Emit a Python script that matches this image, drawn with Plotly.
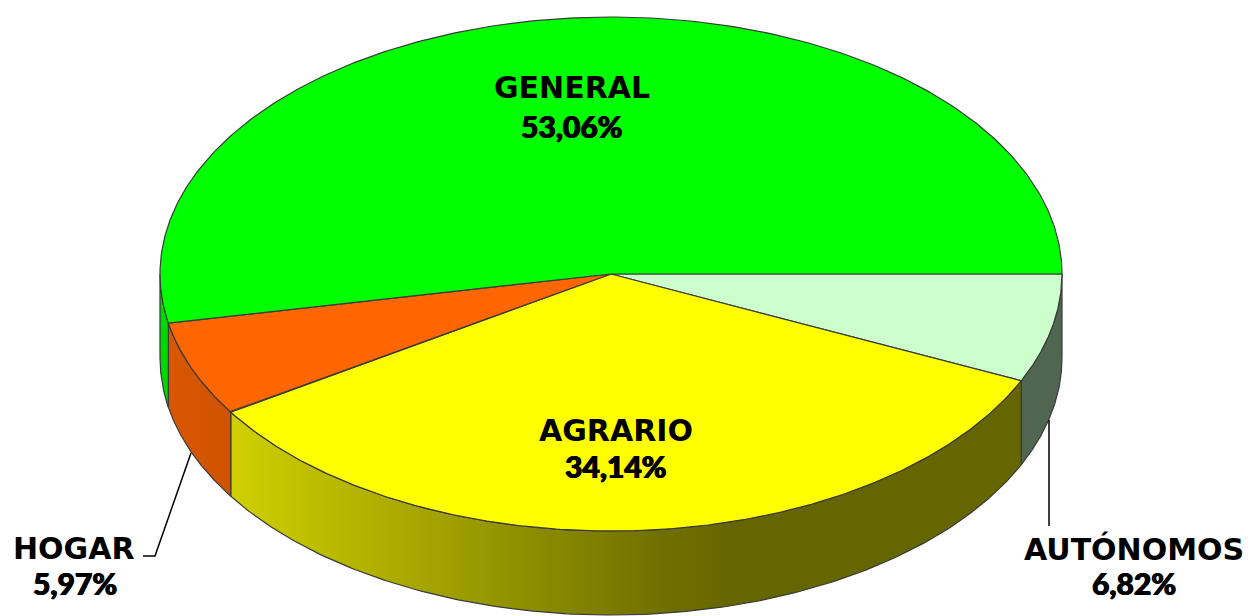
import numpy as np
import plotly.graph_objects as go

# ---- data (clockwise from 3 o'clock) ----
categories = ["AUTÓNOMOS", "AGRARIO", "HOGAR", "GENERAL"]
values = [6.82, 34.14, 5.97, 53.06]
pct_labels = ["6,82%", "34,14%", "5,97%", "53,06%"]
top_colors = ["#CCFFCC", "#FFFF00", "#FF6600", "#00FF00"]

# ---- geometry / style ----
W, H = 1253, 616
cx, cy, rx, ry, depth = 611, 274, 451, 257, 84
edge = "#3a3a3a"

# horizontal lighting factor for the side walls
shade_x = [150, 230, 710, 1100]
shade_f = [0.86, 0.82, 0.40, 0.40]


def hex2rgb(h):
    h = h.lstrip("#")
    return tuple(int(h[i:i + 2], 16) for i in (0, 2, 4))


def shade(hexc, f):
    r, g, b = hex2rgb(hexc)
    return f"rgb({int(r*f)},{int(g*f)},{int(b*f)})"


fig = go.Figure()

total = sum(values)
bounds = np.concatenate([[0], np.cumsum(values) / total * 360.0])

# side walls (only front half, 0..180 deg, screen clockwise)
for i, c in enumerate(top_colors):
    a1, a2 = bounds[i], bounds[i + 1]
    s1, s2 = max(a1, 0), min(a2, 180)
    if s2 <= s1:
        continue
    t = np.radians(np.linspace(s1, s2, 200))
    xt = cx + rx * np.cos(t)
    yt = cy + ry * np.sin(t)
    xs = np.concatenate([xt, xt[::-1], xt[:1]])
    ys = np.concatenate([yt, yt[::-1] + depth, yt[:1]])
    x0, x1 = xt.min(), xt.max()
    samp = np.linspace(x0, x1, 12)
    cs = [[k / 11, shade(c, float(np.interp(sx, shade_x, shade_f)))] for k, sx in enumerate(samp)]
    fig.add_trace(go.Scatter(
        x=xs, y=ys, mode="lines", fill="toself",
        fillgradient=dict(type="horizontal", colorscale=cs, start=x0, stop=x1),
        line=dict(color=edge, width=1.2), hoverinfo="skip", showlegend=False))

# top faces
for i, c in enumerate(top_colors):
    a1, a2 = bounds[i], bounds[i + 1]
    t = np.radians(np.linspace(a1, a2, 300))
    xs = np.concatenate([[cx], cx + rx * np.cos(t), [cx]])
    ys = np.concatenate([[cy], cy + ry * np.sin(t), [cy]])
    fig.add_trace(go.Scatter(
        x=xs, y=ys, mode="lines", fill="toself", fillcolor=c,
        line=dict(color=edge, width=1.2), hoverinfo="skip", showlegend=False))

# ---- labels ----
name_pos = {
    "GENERAL": (572, 87),
    "AGRARIO": (616, 430),
    "HOGAR": (74, 548),
    "AUTÓNOMOS": (1134, 549),
}
num_pos = {
    "GENERAL": (572, 126),
    "AGRARIO": (616, 466),
    "HOGAR": (75, 583),
    "AUTÓNOMOS": (1134, 583),
}
name_font = dict(family="'DejaVu Sans', sans-serif", size=30, color="#000000", weight="bold")
num_font = dict(family="Lato, sans-serif", size=30, color="#000000", weight=900,
                shadow="0.6px 0 0 #000, -0.6px 0 0 #000")
for cat, p in zip(categories, pct_labels):
    x, y = name_pos[cat]
    fig.add_annotation(x=x, y=y, xref="x", yref="y", text=cat,
                       showarrow=False, font=name_font, yanchor="middle")
    x, y = num_pos[cat]
    fig.add_annotation(x=x, y=y, xref="x", yref="y", text=p,
                       showarrow=False, font=num_font, yanchor="middle")

# leader lines
fig.add_trace(go.Scatter(x=[191, 155, 143], y=[453, 556, 556], mode="lines",
                         line=dict(color="#000000", width=1.5), hoverinfo="skip", showlegend=False))
fig.add_trace(go.Scatter(x=[1049, 1049], y=[420, 526], mode="lines",
                         line=dict(color="#000000", width=1.5), hoverinfo="skip", showlegend=False))

fig.update_layout(
    width=W, height=H, margin=dict(l=0, r=0, t=0, b=0),
    paper_bgcolor="white", plot_bgcolor="white",
    xaxis=dict(range=[0, W], visible=False, fixedrange=True),
    yaxis=dict(range=[H, 0], visible=False, fixedrange=True),
    showlegend=False,
)

fig.write_html("out.html", config={"displayModeBar": False},
               post_script="document.body.style.margin='0';document.body.style.overflow='hidden';")
